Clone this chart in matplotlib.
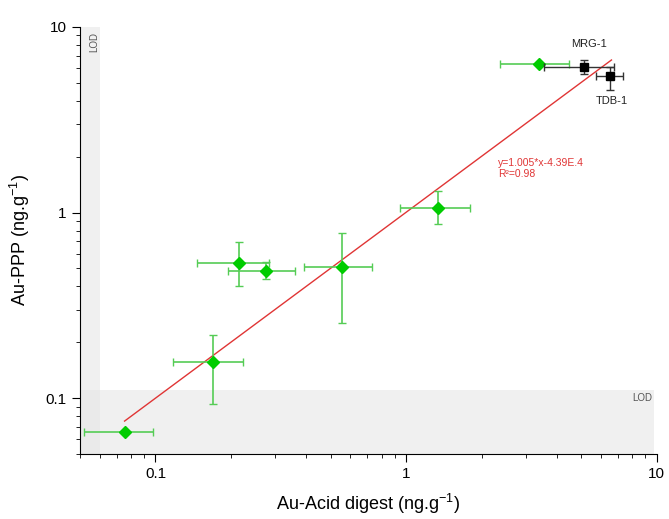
import matplotlib
matplotlib.use('Agg')
import matplotlib.pyplot as plt
import numpy as np

plt.rcParams['font.family'] = ['Liberation Sans', 'DejaVu Sans']
plt.rcParams['mathtext.default'] = 'regular'

# samples (green diamonds)
acid = [0.0753, 0.170, 0.215, 0.275, 0.557, 1.34, 3.40]
acid_lo = [0.052, 0.118, 0.146, 0.195, 0.39, 0.95, 2.38]
acid_hi = [0.098, 0.223, 0.285, 0.36, 0.73, 1.80, 4.48]
ppp = [0.066, 0.157, 0.537, 0.486, 0.51, 1.06, 6.3]
ppp_lo = [0.066, 0.093, 0.40, 0.44, 0.254, 0.87, 6.3]
ppp_hi = [0.066, 0.219, 0.69, 0.54, 0.78, 1.31, 6.3]

# reference materials (black squares)
ref_names = ['MRG-1', 'TDB-1']
ref_acid = [5.13, 6.5]
ref_acid_lo = [3.56, 5.73]
ref_acid_hi = [6.74, 7.33]
ref_ppp = [6.08, 5.43]
ref_ppp_lo = [5.6, 4.57]
ref_ppp_hi = [6.6, 6.07]

lod_x = 0.06
lod_y = 0.11
slope, intercept = 1.005, -4.39e-4

fig = plt.figure(figsize=(6.69, 5.19), dpi=100)
ax = fig.add_axes([0.1196, 0.1252, 0.862, 0.823])
ax.set_xscale('log')
ax.set_yscale('log')
ax.set_xlim(0.05, 10)
ax.set_ylim(0.05, 10)

ax.axvspan(0.05, lod_x, color='#e6e6e6', alpha=0.6, lw=0, zorder=0)
ax.axhspan(0.05, lod_y, xmax=0.995, color='#e6e6e6', alpha=0.6, lw=0, zorder=0)
ax.text(0.0545, 9.4, 'LOD', rotation=90, fontsize=7, color='#555555', ha='left', va='top')
ax.text(9.6, 0.1, 'LOD', fontsize=7, color='#555555', ha='right', va='center')

def err(v, lo, hi):
    v = np.array(v); return [v - np.array(lo), np.array(hi) - v]

ax.errorbar(acid, ppp, xerr=err(acid, acid_lo, acid_hi), yerr=err(ppp, ppp_lo, ppp_hi),
            fmt='D', color='#00cc00', ms=6, ecolor='#55cc55', elinewidth=1.2,
            capsize=3, capthick=1, zorder=3)
ax.errorbar(ref_acid, ref_ppp, xerr=err(ref_acid, ref_acid_lo, ref_acid_hi),
            yerr=err(ref_ppp, ref_ppp_lo, ref_ppp_hi),
            fmt='s', color='black', ms=6, ecolor='#333333', elinewidth=1,
            capsize=3, capthick=1, zorder=4)
ax.text(5.37, 8.1, ref_names[0], fontsize=8, color='#222222', ha='center', va='center')
ax.text(6.6, 4.0, ref_names[1], fontsize=8, color='#222222', ha='center', va='center')

xf = np.array([0.0753, 6.6])
ax.plot(xf, slope * xf + intercept, color='#e03535', lw=1, zorder=2)
ax.text(2.32, 1.72, 'y=1.005*x-4.39E.4\nR²=0.98', fontsize=7.5, color='#e03535',
        ha='left', va='center', linespacing=1.1)

for s in ['top', 'right']:
    ax.spines[s].set_visible(False)
ax.xaxis.set_major_formatter(matplotlib.ticker.FuncFormatter(lambda v, p: '%g' % v))
ax.yaxis.set_major_formatter(matplotlib.ticker.FuncFormatter(lambda v, p: '%g' % v))
ax.xaxis.set_minor_formatter(matplotlib.ticker.NullFormatter())
ax.yaxis.set_minor_formatter(matplotlib.ticker.NullFormatter())
ax.tick_params(which='major', direction='out', length=6, labelsize=11)
ax.tick_params(which='minor', direction='out', length=3)
ax.set_xlabel('Au-Acid digest (ng.g$^{-1}$)', fontsize=13, labelpad=8)
ax.set_ylabel('Au-PPP (ng.g$^{-1}$)', fontsize=13, labelpad=10)

fig.savefig('out.png', dpi=100)
